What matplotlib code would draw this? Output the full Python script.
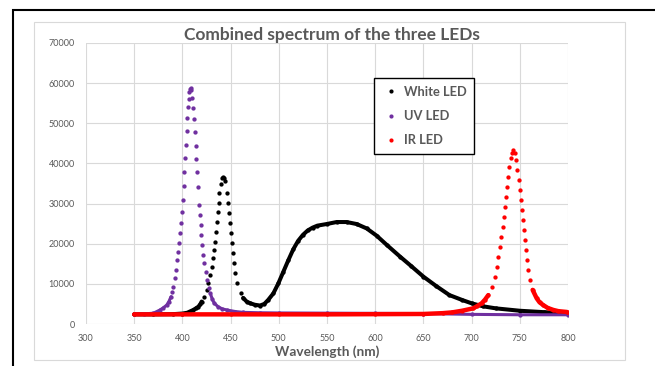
import numpy as np
import matplotlib
matplotlib.use("Agg")
import matplotlib.pyplot as plt
from matplotlib.lines import Line2D
from matplotlib.patches import Rectangle

plt.rcParams['font.family'] = ['Lato', 'DejaVu Sans']

# values (wavelength in nm, counts)
white_wl = [350, 370, 390, 400, 405, 411.3, 414, 416.5, 418.5, 420,
            422.7, 425.2, 426.8, 428.6, 430.3, 431.3, 432.8, 433.8, 434.5, 435.5,
            436.5, 437.6, 438.2, 439.6, 440.7, 441.7, 442.8, 444.1, 445.8, 446.9,
            447.9, 449.4, 450.4, 451.5, 452.2, 453.2, 454.9, 457, 460.4,
            463, 466.6, 470, 475, 480.5, 485, 489, 494.3, 499.5, 504.7,
            509.9, 515, 520, 525, 530, 535, 540, 549.6, 560, 570.4, 580.8, 591.2,
            601.5, 612, 625.7, 637, 650, 663, 677, 690, 700, 712,
            725, 750, 775, 800]
white_val = [2400, 2400, 2450, 2600, 2800, 3500, 3900, 4300, 4900, 5600,
             6800, 8500, 10100, 12200, 14300, 16400, 18400, 20500, 23000, 25500,
             28000, 30100, 32600, 35000, 36300, 36700, 36400, 35500, 32600, 30100,
             27600, 25100, 22600, 20100, 17600, 15100, 12600, 10100, 7600,
             6500, 5600, 5200, 4800, 4600, 5000, 6000, 7600, 10100, 13000,
             15900, 18600, 20700, 22200, 23300, 24000, 24500, 24900, 25400, 25400, 24900, 23800,
             22000, 19700, 16800, 14500, 11800, 9500, 7200, 6000, 5150, 4400,
             3900, 3300, 2950, 2700]

uv_wl = [350, 360, 370, 376.8, 380, 383.7, 386, 388.2,
         389.5, 390.6, 392, 393.4, 394.7, 395.7, 396.4, 397.5, 398.5, 399.2,
         400.3, 401.2, 402.0, 402.8, 403.5, 404.3, 405.2, 405.8, 406.4, 407.2,
         408.0, 408.6, 409.3, 410.3, 411.2, 412, 412.8, 413.7, 414.5, 415.4,
         416.4, 417.5, 418.3, 419, 419.6, 420.6, 421.7, 422.7, 424, 425.5,
         427.6, 429, 431, 433, 437, 441, 446, 455, 463, 480,
         500, 550, 600, 650, 700, 750, 800]
uv_val = [2500, 2500, 2700, 3500, 4000, 4700, 5600, 6800,
          8000, 9300, 11400, 13450, 15900, 18000, 20100, 22600, 25100, 27800,
          30900, 34300, 37900, 41300, 44700, 48200, 51200, 54000, 56000, 57800,
          58600, 58800, 58400, 56200, 53800, 51000, 47900, 44300, 41100, 37900,
          34100, 29600, 27200, 24700, 22200, 19700, 17200, 15100, 13000, 11000,
          8900, 7600, 6200, 5200, 4300, 3800, 3500, 3100, 2900, 2800,
          2750, 2700, 2650, 2600, 2400, 2300, 2300]

ir_wl = [350, 400, 450, 500, 550, 600, 650, 670, 680, 690,
         701.7, 706, 710.4, 714, 717.3, 720.8, 723.9, 726, 727.7, 729.5,
         730.7, 732.2, 733.3, 734.6, 735.7, 737, 738, 739, 740.5, 741.7,
         743.3, 744.6, 746, 747.3, 748.8, 750.2, 751.2, 752.3, 753.3, 754.4,
         755.4, 756.4, 757.5, 758.8, 760.6, 763.3, 767.5, 770.5, 774.4, 779,
         784.8, 790, 798.6, 800]
ir_val = [2400, 2400, 2400, 2400, 2400, 2450, 2500, 2700, 2900, 3300,
          3900, 4500, 5150, 6100, 7200, 9300, 11800, 14300, 16800, 19300,
          21700, 24200, 26700, 29200, 31700, 34200, 36700, 39200, 41300, 42600,
          43350, 42600, 40900, 38400, 35900, 33400, 30900, 28400, 25900, 23400,
          20900, 18400, 15900, 13500, 11000, 8500, 6400, 5400, 4700, 4000,
          3500, 3200, 3000, 2900]

series = [
    ("White LED", white_wl, white_val, "black", (421, 461), 2.9),
    ("UV LED", uv_wl, uv_val, "#7030A0", (389, 428), 2.2),
    ("IR LED", ir_wl, ir_val, "#FF0000", (718, 762), 3.2),
]

grey = "#595959"

fig = plt.figure(figsize=(6.55, 3.66), dpi=100)
ax = fig.add_axes([86/655, 1-324/366, 482/655, 281/366])

# chart frames
fig.patches.append(Rectangle((13/655, -0.1), 1.0, (356/366) + 0.1, transform=fig.transFigure,
                             fill=False, edgecolor="black", lw=1.5, zorder=0))
fig.patches.append(Rectangle((34/655, 1-360/366), 591/655, 338/366, transform=fig.transFigure,
                             fill=False, edgecolor="#D9D9D9", lw=0.8, zorder=0))

for name, wl, val, col, (lo, hi), lw in series:
    wl = np.array(wl)
    val = np.array(val, dtype=float)
    line_val = np.where((wl > lo) & (wl < hi), np.nan, val)
    ax.plot(wl, line_val, color=col, lw=lw, solid_capstyle='round',
            solid_joinstyle='round', zorder=3)
    ax.plot(wl, val, ls='', marker='o', ms=3.1, mew=0, color=col, zorder=3)

ax.set_xlim(300, 800)
ax.set_ylim(0, 70000)
ax.set_xticks(np.arange(300, 801, 50))
ax.set_yticks(np.arange(0, 70001, 10000))
ax.grid(True, color="#D9D9D9", lw=0.8)
ax.set_axisbelow(True)
for s in ax.spines.values():
    s.set_visible(False)
ax.tick_params(length=0, labelsize=6.5, labelcolor=grey)
ax.tick_params(axis='y', pad=8)
ax.tick_params(axis='x', pad=7)

ax.set_xlabel("Wavelength (nm)", fontsize=9.8, fontweight='bold', color=grey, labelpad=2)
fig.text(332/655, 1-35/366, "Combined spectrum of the three LEDs", ha='center', va='center',
         fontsize=12.5, fontweight='bold', color=grey)

handles = [Line2D([], [], ls='', marker='o', ms=3, mew=0, color=c) for _, _, _, c, _, _ in series]
leg = ax.legend(handles, [s[0] for s in series], loc='upper left',
                bbox_to_anchor=(374/655, 1-78/366), bbox_transform=fig.transFigure,
                fancybox=False, framealpha=1, edgecolor='black', fontsize=9.3,
                labelspacing=0.95, handlelength=1.4, handletextpad=0.3, borderpad=0.6,
                borderaxespad=0)
leg.get_frame().set_linewidth(1.0)
for t in leg.get_texts():
    t.set_color(grey)
    t.set_fontweight('bold')

fig.savefig("out.png", dpi=100)
